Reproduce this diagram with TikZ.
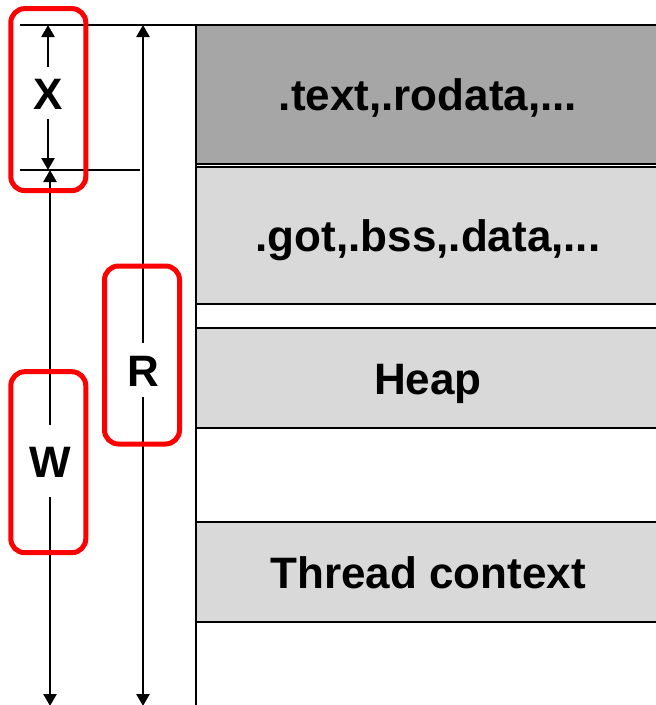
\documentclass[tikz,border=0pt]{standalone}
\usepackage{fontspec}
\setmainfont{Liberation Sans}
\usepackage{xcolor}
\usetikzlibrary{arrows.meta}

\definecolor{segdark}{HTML}{A6A6A6}
\definecolor{seglight}{HTML}{D9D9D9}

\begin{document}
\begin{tikzpicture}[x=1pt,y=-1pt]
        \tikzset{segment/.style={draw,line width=2pt,fill=seglight,outer sep=0pt,inner sep=0pt,
                anchor=north west,minimum width=464pt,
                font=\fontsize{44}{50}\bfseries\selectfont,text height=32pt,text depth=0pt},
            dimlabel/.style={font=\fontsize{44}{50}\bfseries\selectfont,inner xsep=0pt,
                text height=32pt,text depth=0pt},
            dimline/.style={line width=2.5pt,-{Triangle[length=12pt,width=13pt]}},
            frame/.style={draw=red,line width=5pt,rounded corners=14pt,minimum width=75pt},
            guide/.style={line width=2.5pt}}
        \useasboundingbox (0,0) rectangle (656,705);
        % memory segments
        \node[segment,fill=segdark,minimum height=139pt] (rodata) at (196,25) {.text,.rodata,...};
        \node[segment,minimum height=137pt] (data) at (196,167) {.got,.bss,.data,...};
        \node[segment,minimum height=100pt] (heap) at (196,328) {Heap};
        \node[segment,minimum height=100pt] (thread) at (196,522) {Thread context};
        % dimensions
        \coordinate (topleft) at (20,25);
        \coordinate (midleft) at (20,170);
        \coordinate (midright) at (140,170);
        \coordinate (xtop) at (48,25);
        \coordinate (xbot) at (48,170);
        \coordinate (wtop) at (50,170);
        \coordinate (wbot) at (50,706);
        \coordinate (rtop) at (143,25);
        \coordinate (rbot) at (143,706);
        \draw[guide] (topleft) -- (rodata.north west);
        \draw[guide] (midleft) -- (midright);
        \draw[guide] (rodata.north west) -- (rodata.north west |- rbot);
        \node[dimlabel,inner ysep=10pt] (xlab) at (48,93) {X};
        \node[dimlabel,inner ysep=20pt] (wlab) at (50,461) {W};
        \node[dimlabel,inner ysep=11pt] (rlab) at (143,370) {R};
        \draw[dimline] (xlab) -- (xtop);
        \draw[dimline] (xlab) -- (xbot);
        \draw[dimline] (wlab) -- (wtop);
        \draw[dimline] (wlab) -- (wbot);
        \draw[dimline] (rlab) -- (rtop);
        \draw[dimline] (rlab) -- (rbot);
        % highlight frames
        \node[frame,minimum height=182pt] (xframe) at (48.3,99.6) {};
        \node[frame,minimum height=178pt] (rframe) at (142,355) {};
        \node[frame,minimum height=181pt] (wframe) at (48.3,462.2) {};
\end{tikzpicture}
\end{document}
